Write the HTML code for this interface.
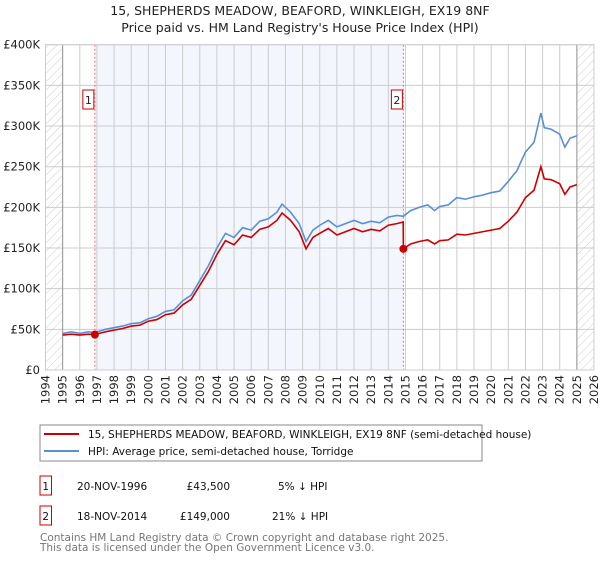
<!DOCTYPE html>
<html><head><meta charset="utf-8"><style>
body{margin:0;background:#fff;font-family:"Liberation Sans","DejaVu Sans",sans-serif;}
svg text{font-family:"DejaVu Sans","Liberation Sans",sans-serif;}
</style></head><body>
<svg id="chart" width="600" height="560" xmlns="http://www.w3.org/2000/svg">
<defs>
<pattern id="hatch" patternUnits="userSpaceOnUse" width="6" height="6" patternTransform="rotate(45)">
<line x1="0" y1="0" x2="0" y2="6" stroke="#ccc" stroke-width="1"/></pattern>
</defs>
<text x="300" y="15" font-size="12.5" text-anchor="middle" fill="#222">15, SHEPHERDS MEADOW, BEAFORD, WINKLEIGH, EX19 8NF</text>
<text x="300" y="32" font-size="12.5" text-anchor="middle" fill="#222">Price paid vs. HM Land Registry's House Price Index (HPI)</text>
<g id="plot"></g>
<g>
<rect x="40" y="425" width="442" height="36" fill="#fff" stroke="#888" stroke-width="1"/>
<line x1="44" y1="434" x2="79" y2="434" stroke="#cc0000" stroke-width="2"/>
<text x="88" y="438" font-size="10.5" fill="#111">15, SHEPHERDS MEADOW, BEAFORD, WINKLEIGH, EX19 8NF (semi-detached house)</text>
<line x1="44" y1="451" x2="79" y2="451" stroke="#5b8fd4" stroke-width="2"/>
<text x="88" y="455" font-size="10.5" fill="#111">HPI: Average price, semi-detached house, Torridge</text>
</g>
<g font-size="10.5" fill="#111">
<rect x="40" y="476" width="11.5" height="19" fill="#fff" stroke="#cc0000"/>
<text x="45.7" y="490" text-anchor="middle">1</text>
<text x="77" y="490">20-NOV-1996</text>
<text x="230" y="490" text-anchor="end">£43,500</text>
<text x="278" y="490">5% ↓ HPI</text>
<rect x="40" y="506" width="11.5" height="19" fill="#fff" stroke="#cc0000"/>
<text x="45.7" y="520" text-anchor="middle">2</text>
<text x="77" y="520">18-NOV-2014</text>
<text x="230" y="520" text-anchor="end">£149,000</text>
<text x="272" y="520">21% ↓ HPI</text>
</g>
<text x="40" y="541" font-size="10.5" fill="#777">Contains HM Land Registry data © Crown copyright and database right 2025.</text>
<text x="40" y="551" font-size="10.5" fill="#777">This data is licensed under the Open Government Licence v3.0.</text>
</svg>
<script>
const hpiDates=[1995,1995.5,1996,1996.5,1996.88,1997.5,1998,1998.5,1999,1999.5,2000,2000.5,2001,2001.5,2002,2002.5,2003,2003.5,2004,2004.5,2005,2005.5,2006,2006.5,2007,2007.5,2007.8,2008.3,2008.8,2009.2,2009.6,2010,2010.5,2011,2011.5,2012,2012.5,2013,2013.5,2014,2014.5,2014.88,2015.3,2015.8,2016.3,2016.7,2017,2017.5,2018,2018.5,2019,2019.5,2020,2020.5,2021,2021.5,2022,2022.5,2022.9,2023.1,2023.5,2024,2024.3,2024.6,2025];
const hpiValues=[45,47,45,47,46,50,52,54,57,58,63,66,72,74,85,92,110,128,150,168,163,175,172,183,186,194,204,194,180,158,172,178,184,176,180,184,180,183,181,188,190,189,196,200,203,196,201,203,212,210,213,215,218,220,232,245,268,280,316,298,296,290,274,285,288];
const priceDates=[1995,1995.5,1996,1996.5,1996.88,1997.5,1998,1998.5,1999,1999.5,2000,2000.5,2001,2001.5,2002,2002.5,2003,2003.5,2004,2004.5,2005,2005.5,2006,2006.5,2007,2007.5,2007.8,2008.3,2008.8,2009.2,2009.6,2010,2010.5,2011,2011.5,2012,2012.5,2013,2013.5,2014,2014.5,2014.87,2014.88,2015.3,2015.8,2016.3,2016.7,2017,2017.5,2018,2018.5,2019,2019.5,2020,2020.5,2021,2021.5,2022,2022.5,2022.9,2023.1,2023.5,2024,2024.3,2024.6,2025];
const priceValues=[43,44,43,44,43.5,47,49,51,54,55,60,62,68,70,80,87,104,121,142,159,154,166,163,173,176,184,193,184,170,149,163,168,174,166,170,174,170,173,171,178,180,182,149,155,158,160,155,159,160,167,166,168,170,172,174,183,194,212,221,250,235,234,229,216,225,228];
const saleDates=[1996.88,2014.88];
const saleValues=[43.5,149];
const saleLabels=["1","2"];
const yTicks=[0,50,100,150,200,250,300,350,400];
const yTickLabels=["£0","£50K","£100K","£150K","£200K","£250K","£300K","£350K","£400K"];
const xYears=[1994,1995,1996,1997,1998,1999,2000,2001,2002,2003,2004,2005,2006,2007,2008,2009,2010,2011,2012,2013,2014,2015,2016,2017,2018,2019,2020,2021,2022,2023,2024,2025,2026];

const NS="http://www.w3.org/2000/svg";
const L=45.5,R=594,T=44.7,B=370;
const xs=y=>L+(y-1994)/32*(R-L);
const ys=v=>B-v/400*(B-T);
const g=document.getElementById('plot');
function mk(tag,attrs){const e=document.createElementNS(NS,tag);for(const k in attrs)e.setAttribute(k,attrs[k]);g.appendChild(e);return e;}
let e;
e=mk('rect',{x:L,y:T,width:R-L,height:B-T,fill:'#fff'});


e=mk('rect',{x:xs(saleDates[0]),y:T,width:xs(saleDates[1])-xs(saleDates[0]),height:B-T,fill:'#f3f6fd'});


e=mk('rect',{x:L,y:T,width:xs(1995)-L,height:B-T,fill:'url(#hatch)'});


e=mk('rect',{x:xs(2025),y:T,width:R-xs(2025),height:B-T,fill:'url(#hatch)'});


xYears.forEach(yr=>{
  e=mk('line',{x1:xs(yr),x2:xs(yr),y1:T,y2:B,stroke:'#cccccc','stroke-width':1});
  
  
  e=mk('text',{x:0,y:0,'font-size':11.5,fill:'#222','text-anchor':'end',transform:`translate(${xs(yr)+4},${B+5}) rotate(-90)`});
  e.textContent=yr;
  
  
});
yTicks.forEach((v,i)=>{
  e=mk('line',{x1:L,x2:R,y1:ys(v),y2:ys(v),stroke:'#cccccc','stroke-width':1});
  
  
  e=mk('text',{x:40,y:ys(v)+4,'font-size':11.5,fill:'#222','text-anchor':'end'});
  e.textContent=yTickLabels[i];
  
  
});
[1995,2025].forEach(yr=>{
  e=mk('line',{x1:xs(yr),x2:xs(yr),y1:T,y2:B,stroke:'#999','stroke-width':1});
  
  
});
saleDates.forEach((d,i)=>{
  e=mk('line',{x1:xs(d),x2:xs(d),y1:T,y2:B,stroke:'#f07070','stroke-width':1,'stroke-dasharray':'2,2'});
  
  
});
e=mk('polyline',{points:hpiDates.map((d,i)=>xs(d)+','+ys(hpiValues[i])).join(' '),fill:'none',stroke:'#5b8fd4','stroke-width':1.6});


e=mk('polyline',{points:priceDates.map((d,i)=>xs(d)+','+ys(priceValues[i])).join(' '),fill:'none',stroke:'#cc0000','stroke-width':1.6});


saleDates.forEach((d,i)=>{
  e=mk('circle',{cx:xs(d),cy:ys(saleValues[i]),r:4,fill:'#cc0000'});
  
  
  e=mk('rect',{x:xs(d)-12,y:90,width:11,height:19,fill:'#fff',stroke:'#cc0000'});
  
  
  e=mk('text',{x:xs(d)-6.5,y:104,'font-size':11,fill:'#222','text-anchor':'middle'});
  e.textContent=saleLabels[i];
  
  
});
e=mk('rect',{x:L,y:T,width:R-L,height:B-T,fill:'none',stroke:'#cccccc'});


</script>
</body></html>
